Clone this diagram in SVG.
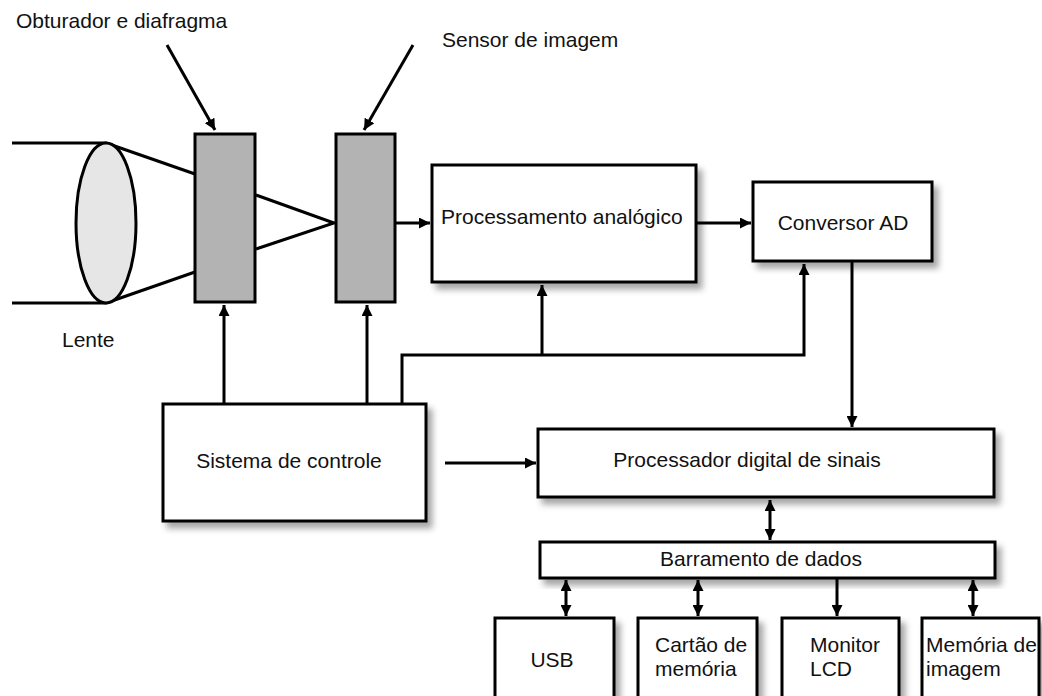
<svg xmlns="http://www.w3.org/2000/svg" width="1042" height="696" viewBox="0 0 1042 696">
<defs>
<filter id="sh" x="-10%" y="-10%" width="130%" height="140%">
<feDropShadow dx="5" dy="6" stdDeviation="3" flood-color="#000" flood-opacity="0.35"/>
</filter>
<marker id="ah" viewBox="0 0 10 10" refX="10" refY="5" markerWidth="11" markerHeight="11" markerUnits="userSpaceOnUse" orient="auto-start-reverse">
<path d="M0,0 L10,5 L0,10 Z" fill="#000"/>
</marker>
</defs>
<style>
.box{fill:#fff;stroke:#000;stroke-width:3}
.gray{fill:#b3b3b3;stroke:#000;stroke-width:3}
.ln{fill:none;stroke:#000;stroke-width:3}
.t{font-family:"Liberation Sans",Arial,sans-serif;font-size:21px;fill:#111}
.c{text-anchor:middle}
</style>
<rect width="1042" height="696" fill="#fff"/>

<g id="labels">
<text class="t" x="16" y="28">Obturador e diafragma</text>
<text class="t" x="442" y="47">Sensor de imagem</text>
<text class="t" x="62" y="347">Lente</text>
</g>

<g id="connectors">
<line class="ln" x1="12" y1="143" x2="106" y2="143"/>
<line class="ln" x1="12" y1="303" x2="106" y2="303"/>
<line class="ln" x1="106" y1="143" x2="195" y2="174"/>
<line class="ln" x1="106" y1="303" x2="195" y2="272"/>
<polyline class="ln" points="256,195 334,223 256,249"/>
<line class="ln" x1="167" y1="45" x2="215" y2="130" marker-end="url(#ah)"/>
<line class="ln" x1="413" y1="45" x2="364" y2="130" marker-end="url(#ah)"/>
<line class="ln" x1="396" y1="223" x2="430" y2="223" marker-end="url(#ah)"/>
<line class="ln" x1="697" y1="223" x2="751" y2="223" marker-end="url(#ah)"/>
<line class="ln" x1="224" y1="403" x2="224" y2="305" marker-end="url(#ah)"/>
<line class="ln" x1="367" y1="403" x2="367" y2="305" marker-end="url(#ah)"/>
<polyline class="ln" points="402,403 402,355 804,355 804,264" marker-end="url(#ah)"/>
<line class="ln" x1="542" y1="355" x2="542" y2="285" marker-end="url(#ah)"/>
<line class="ln" x1="852" y1="261" x2="852" y2="427" marker-end="url(#ah)"/>
<line class="ln" x1="445" y1="463" x2="536" y2="463" marker-end="url(#ah)"/>
<line class="ln" x1="770" y1="500" x2="770" y2="540" marker-start="url(#ah)" marker-end="url(#ah)"/>
<line class="ln" x1="566" y1="580" x2="566" y2="616" marker-start="url(#ah)" marker-end="url(#ah)"/>
<line class="ln" x1="698" y1="580" x2="698" y2="616" marker-start="url(#ah)" marker-end="url(#ah)"/>
<line class="ln" x1="837" y1="579" x2="837" y2="616" marker-end="url(#ah)"/>
<line class="ln" x1="973" y1="580" x2="973" y2="616" marker-start="url(#ah)" marker-end="url(#ah)"/>
</g>

<g id="lente">
<ellipse cx="106" cy="223" rx="30" ry="80" fill="#e6e6e6" stroke="#000" stroke-width="3"/>
</g>
<g id="obturador">
<rect class="gray" x="195" y="134" width="60" height="168"/>
</g>
<g id="sensor">
<rect class="gray" x="336" y="134" width="59" height="168"/>
</g>
<g id="proc-analogico">
<rect class="box" filter="url(#sh)" x="432" y="165" width="264" height="117"/>
<text class="t" x="441" y="224">Processamento analógico</text>
</g>
<g id="conversor">
<rect class="box" filter="url(#sh)" x="753" y="182" width="179" height="79"/>
<text class="t c" x="843" y="230">Conversor AD</text>
</g>
<g id="sistema">
<rect class="box" filter="url(#sh)" x="163" y="404" width="263" height="117"/>
<text class="t c" x="289" y="468">Sistema de controle</text>
</g>
<g id="dsp">
<rect class="box" filter="url(#sh)" x="538" y="429" width="456" height="68"/>
<text class="t c" x="747" y="467">Processador digital de sinais</text>
</g>
<g id="barramento">
<rect class="box" filter="url(#sh)" x="540" y="542" width="455" height="36"/>
<text class="t c" x="761" y="566">Barramento de dados</text>
</g>
<g id="usb">
<rect class="box" filter="url(#sh)" x="495" y="618" width="119" height="100"/>
<text class="t c" x="552" y="667">USB</text>
</g>
<g id="cartao">
<rect class="box" filter="url(#sh)" x="638" y="618" width="119" height="100"/>
<text class="t" x="655" y="652">Cartão de</text>
<text class="t" x="655" y="676">memória</text>
</g>
<g id="monitor">
<rect class="box" filter="url(#sh)" x="782" y="618" width="117" height="100"/>
<text class="t" x="810" y="652">Monitor</text>
<text class="t" x="810" y="676">LCD</text>
</g>
<g id="memoria">
<rect class="box" filter="url(#sh)" x="922" y="618" width="117" height="100"/>
<text class="t" x="926" y="652">Memória de</text>
<text class="t" x="926" y="676">imagem</text>
</g>
</svg>
